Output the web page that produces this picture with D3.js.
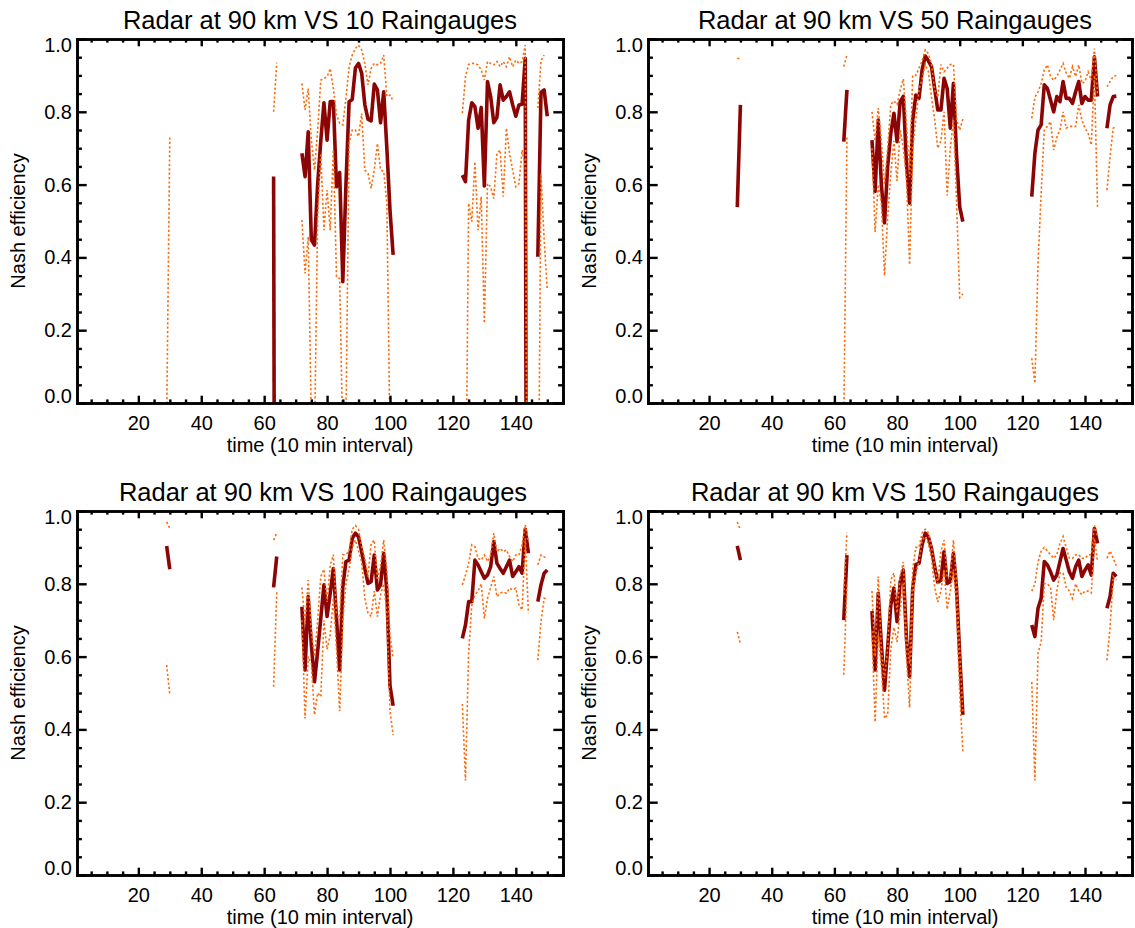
<!DOCTYPE html>
<html><head><meta charset="utf-8">
<script src="https://cdn.jsdelivr.net/npm/d3@7"></script>
<style>
body{margin:0;background:#fff}
text{font-family:"Liberation Sans",Arial,Helvetica,sans-serif;fill:#000}
</style>
</head><body>
<svg id="chart" width="1135" height="928"></svg>
<script>
// ---------------- DATA (segments: [start time index, values...]) ----------------
const timeTicks = [20, 40, 60, 80, 100, 120, 140];
const timeMinor = d3.range(5, 155, 5).filter(d => d % 20 !== 0);
const nashTicks = [0, 0.2, 0.4, 0.6, 0.8, 1.0];
const nashMinor = d3.range(0.05, 1.0, 0.05).filter(d => Math.abs(d*5 - Math.round(d*5)) > 1e-6);

const gaugeCounts = [10, 50, 100, 150];

const mean10 = [
  [63, [0.622, -3]],
  [72, [0.686,0.622,0.745,0.448,0.434,0.60,0.72,0.825,0.722,0.828,0.828,0.594,0.633,0.333,0.60,0.828,0.834,0.92,0.933,0.906,0.82,0.78,0.775,0.876,0.86,0.77,0.855,0.70,0.53,0.407]],
  [123, [0.626,0.608,0.777,0.825,0.814,0.755,0.812,0.596,0.883,0.842,0.770,0.785,0.874,0.832,0.842,0.855,0.819,0.788,0.819,0.821,0.947,-3]],
  [147, [0.402,0.853,0.860,0.788]]
];
const upper10 = [
  [29, [-0.05, 0.73]],
  [63, [0.80, 0.935]],
  [72, [0.878,0.805,0.864,0.722,0.64,0.75,0.887,0.892,0.896,0.919,0.864,0.791,0.768,0.764,0.837,0.924,0.956,0.974,0.983,0.97,0.933,0.874,0.919,0.933,0.929,0.933,0.956,0.842,0.846,0.83]],
  [123, [0.796,0.897,0.93,0.933,0.933,0.929,0.915,0.887,0.938,0.933,0.929,0.938,0.924,0.938,0.924,0.951,0.924,0.942,0.933,0.938,0.983,-1]],
  [147, [0.81,0.94,0.956]]
];
const lower10 = [
  [72, [0.503,0.356,0.457,-0.05,-0.1,0.51,0.686,0.475,0.585,0.475,0.695,0.347,0.342,-0.1,-0.05,0.713,0.75,0.75,0.732,0.796,0.64,0.631,0.59,0.64,0.713,0.64,0.636,0.55,-0.1,-0.2]],
  [123, [-0.5,-0.4,0.549,0.498,0.663,0.475,0.567,0.219,0.603,0.594,0.562,0.686,0.695,0.567,0.755,0.686,0.64,0.594,0.603,0.695,0.649,-1]],
  [147, [-0.5,0.63,0.45,0.31]]
];

const mean50 = [
  [29, [0.538, 0.819]],
  [63, [0.718, 0.86]],
  [72, [0.722,0.581,0.777,0.60,0.495,0.65,0.74,0.796,0.718,0.828,0.842,0.66,0.549,0.777,0.846,0.837,0.915,0.953,0.94,0.924,0.864,0.805,0.805,0.892,0.864,0.755,0.878,0.68,0.539,0.498]],
  [123, [0.567,0.686,0.75,0.764,0.874,0.864,0.832,0.80,0.842,0.828,0.883,0.837,0.837,0.823,0.855,0.883,0.823,0.842,0.832,0.832,0.951,0.842]],
  [147, [0.755,0.819,0.842,0.843]]
];
const upper50 = [
  [29, [0.947, 0.945]],
  [63, [0.924, 0.956]],
  [72, [0.80,0.72,0.81,0.72,0.60,0.70,0.82,0.83,0.82,0.86,0.89,0.77,0.62,0.90,0.90,0.92,0.94,0.97,0.96,0.93,0.86,0.84,0.93,0.91,0.92,0.93,0.93,0.78,0.75,0.78]],
  [123, [0.782,0.84,0.855,0.878,0.915,0.929,0.897,0.887,0.897,0.915,0.933,0.906,0.892,0.924,0.897,0.929,0.878,0.883,0.91,0.887,0.974,0.846]],
  [147, [0.869,0.883,0.897,0.90]]
];
const lower50 = [
  [63, [-0.05, 0.73]],
  [72, [0.70,0.47,0.60,0.55,0.35,0.51,0.63,0.72,0.61,0.75,0.70,0.62,0.38,0.70,0.78,0.86,0.89,0.93,0.91,0.84,0.78,0.70,0.72,0.80,0.57,0.70,0.78,0.55,0.29,0.30]],
  [123, [0.123,0.054,0.384,0.576,0.75,0.76,0.773,0.695,0.73,0.75,0.80,0.755,0.76,0.76,0.76,0.819,0.777,0.755,0.741,0.709,0.90,0.535]],
  [147, [0.585,0.677,0.755,0.76]]
];

const mean100 = [
  [29, [0.904, 0.84]],
  [63, [0.79, 0.875]],
  [72, [0.737,0.563,0.765,0.632,0.531,0.614,0.705,0.797,0.71,0.774,0.842,0.705,0.563,0.792,0.861,0.865,0.925,0.939,0.929,0.888,0.842,0.801,0.806,0.879,0.783,0.797,0.884,0.78,0.52,0.465]],
  [123, [0.65,0.687,0.751,0.751,0.865,0.852,0.833,0.815,0.824,0.847,0.916,0.856,0.842,0.829,0.847,0.865,0.82,0.833,0.847,0.829,0.95,0.884]],
  [147, [0.751,0.797,0.829,0.838]]
];
const upper100 = [
  [29, [0.97, 0.952]],
  [63, [0.92, 0.94]],
  [72, [0.79,0.69,0.81,0.67,0.60,0.70,0.82,0.84,0.75,0.85,0.88,0.72,0.70,0.88,0.88,0.89,0.95,0.96,0.95,0.90,0.87,0.82,0.91,0.92,0.81,0.85,0.92,0.84,0.66,0.595]],
  [123, [0.797,0.824,0.856,0.907,0.902,0.87,0.865,0.879,0.861,0.879,0.939,0.888,0.897,0.888,0.893,0.875,0.861,0.879,0.879,0.907,0.962,0.916]],
  [147, [0.852,0.879,0.874,0.87]]
];
const lower100 = [
  [29, [0.577, 0.495]],
  [63, [0.517, 0.778]],
  [72, [0.70,0.43,0.60,0.58,0.44,0.50,0.49,0.70,0.62,0.66,0.76,0.62,0.45,0.70,0.80,0.84,0.90,0.92,0.89,0.86,0.76,0.72,0.71,0.78,0.71,0.77,0.80,0.72,0.45,0.385]],
  [123, [0.47,0.26,0.61,0.74,0.77,0.78,0.80,0.705,0.76,0.79,0.82,0.765,0.774,0.778,0.774,0.788,0.783,0.788,0.742,0.728,0.925,0.719]],
  [147, [0.59,0.696,0.76,0.76]]
];

const mean150 = [
  [29, [0.904, 0.865]],
  [63, [0.70, 0.879]],
  [72, [0.725,0.563,0.774,0.632,0.508,0.623,0.742,0.788,0.696,0.806,0.838,0.65,0.545,0.788,0.853,0.856,0.907,0.939,0.929,0.897,0.847,0.804,0.81,0.888,0.801,0.806,0.884,0.788,0.604,0.44]],
  [123, [0.687,0.655,0.733,0.76,0.861,0.852,0.833,0.81,0.824,0.861,0.897,0.865,0.833,0.815,0.847,0.865,0.82,0.838,0.852,0.824,0.952,0.911]],
  [147, [0.733,0.765,0.829,0.82]]
];
const upper150 = [
  [29, [0.97, 0.948]],
  [63, [0.77, 0.94]],
  [72, [0.78,0.60,0.82,0.62,0.54,0.62,0.81,0.83,0.72,0.82,0.86,0.66,0.58,0.84,0.90,0.90,0.94,0.95,0.94,0.90,0.85,0.80,0.89,0.92,0.82,0.82,0.92,0.81,0.62,0.45]],
  [123, [0.78,0.80,0.86,0.89,0.90,0.89,0.88,0.87,0.88,0.91,0.93,0.90,0.87,0.87,0.88,0.88,0.87,0.87,0.88,0.88,0.96,0.93]],
  [147, [0.87,0.89,0.87,0.85]]
];
const lower150 = [
  [29, [0.668, 0.636]],
  [63, [0.55, 0.80]],
  [72, [0.67,0.42,0.66,0.57,0.43,0.44,0.62,0.68,0.64,0.73,0.80,0.60,0.46,0.77,0.83,0.86,0.92,0.93,0.91,0.87,0.79,0.75,0.78,0.84,0.73,0.78,0.84,0.74,0.50,0.34]],
  [123, [0.53,0.26,0.61,0.64,0.80,0.80,0.79,0.70,0.78,0.83,0.83,0.79,0.78,0.76,0.80,0.78,0.77,0.78,0.78,0.775,0.925,0.86]],
  [147, [0.59,0.68,0.82,0.81]]
];

const seriesByPanel = [
  {mean: mean10,  upper: upper10,  lower: lower10},
  {mean: mean50,  upper: upper50,  lower: lower50},
  {mean: mean100, upper: upper100, lower: lower100},
  {mean: mean150, upper: upper150, lower: lower150}
];

// ---------------- LAYOUT ----------------
const layout = [
  {left: 77,  right: 563,  top: 39,  bottom: 403, titleDx: 0,  xtitleDx: 0},
  {left: 648, right: 1132, top: 39,  bottom: 403, titleDx: 5,  xtitleDx: 15},
  {left: 77,  right: 563,  top: 511, bottom: 875, titleDx: 3,  xtitleDx: 0},
  {left: 648, right: 1132, top: 511, bottom: 875, titleDx: 5,  xtitleDx: 15}
];
const xDomain = [0.5, 155];
const MEAN_COLOR = "#8c0505";
const ORANGE = "#ff6a0a";
const FONT = '"Liberation Sans",Arial,Helvetica,sans-serif';

const svg = d3.select("#chart");

function toPoints(segments) {
  return segments.map(([t0, vals]) => vals.map((v, i) => ({t: t0 + i, v})));
}

layout.forEach((L, i) => {
  const S = seriesByPanel[i];
  const x = d3.scaleLinear().domain(xDomain).range([L.left, L.right]);
  const y = d3.scaleLinear().domain([0, 1]).range([L.bottom, L.top]);
  const g = svg.append("g");

  const clipId = "clip" + i;
  svg.append("clipPath").attr("id", clipId).append("rect")
    .attr("x", L.left).attr("y", L.top)
    .attr("width", L.right - L.left).attr("height", L.bottom - L.top);

  const line = d3.line().x(d => x(d.t)).y(d => y(d.v));
  const data = g.append("g").attr("clip-path", `url(#${clipId})`);

  data.selectAll("path.mean").data(toPoints(S.mean)).join("path")
    .attr("class", "mean").attr("d", line)
    .attr("fill", "none").attr("stroke", MEAN_COLOR).attr("stroke-width", 3.6)
    .attr("stroke-linejoin", "round");

  [S.upper, S.lower].forEach(ser => {
    data.append("g").selectAll("path").data(toPoints(ser)).join("path")
      .attr("d", line)
      .attr("fill", "none").attr("stroke", ORANGE).attr("stroke-width", 1.6)
      .attr("stroke-dasharray", "2.2,2.2");
  });

  // Axes (IDL style: box with inward ticks on all four sides)
  const xMajLen = 7.3, xMinLen = 3.6, yMajLen = 9.7, yMinLen = 4.9;
  const axes = g.append("g");
  const styleAxis = sel => {
    sel.selectAll("path.domain").attr("stroke", "#000").attr("stroke-width", 2.6);
    sel.selectAll(".tick line").attr("stroke", "#000").attr("stroke-width", 2.4);
    sel.selectAll(".tick text").remove();
  };

  const bottomMaj = axes.append("g").attr("transform", `translate(0,${L.bottom})`)
    .call(d3.axisBottom(x).tickValues(timeTicks).tickSize(-xMajLen).tickSizeOuter(0).tickPadding(13).tickFormat(d3.format("d")));
  bottomMaj.attr("font-family", null).attr("font-size", null);
  bottomMaj.selectAll("path.domain").attr("stroke", "#000").attr("stroke-width", 2.6);
  bottomMaj.selectAll(".tick line").attr("stroke", "#000").attr("stroke-width", 2.4);
  bottomMaj.selectAll(".tick text").attr("font-size", 20).attr("fill", "#000")
    .attr("y", 27).attr("dy", null)
    .style("font-family", FONT);

  axes.append("g").attr("transform", `translate(0,${L.bottom})`)
    .call(d3.axisBottom(x).tickValues(timeMinor).tickSize(-xMinLen).tickSizeOuter(0).tickFormat(""))
    .call(styleAxis);
  axes.append("g").attr("transform", `translate(0,${L.top})`)
    .call(d3.axisTop(x).tickValues(timeTicks).tickSize(-xMajLen).tickSizeOuter(0).tickFormat(""))
    .call(styleAxis);
  axes.append("g").attr("transform", `translate(0,${L.top})`)
    .call(d3.axisTop(x).tickValues(timeMinor).tickSize(-xMinLen).tickSizeOuter(0).tickFormat(""))
    .call(styleAxis);
  axes.append("g").attr("transform", `translate(${L.left},0)`)
    .call(d3.axisLeft(y).tickValues(nashTicks).tickSize(-yMajLen).tickSizeOuter(0).tickFormat(""))
    .call(styleAxis);
  axes.append("g").attr("transform", `translate(${L.left},0)`)
    .call(d3.axisLeft(y).tickValues(nashMinor).tickSize(-yMinLen).tickSizeOuter(0).tickFormat(""))
    .call(styleAxis);
  axes.append("g").attr("transform", `translate(${L.right},0)`)
    .call(d3.axisRight(y).tickValues(nashTicks).tickSize(-yMajLen).tickSizeOuter(0).tickFormat(""))
    .call(styleAxis);
  axes.append("g").attr("transform", `translate(${L.right},0)`)
    .call(d3.axisRight(y).tickValues(nashMinor).tickSize(-yMinLen).tickSizeOuter(0).tickFormat(""))
    .call(styleAxis);
  axes.selectAll("path.domain").attr("stroke-linecap", "square");

  // y tick labels (end labels kept inside the axis extent, as in the original)
  g.append("g").selectAll("text").data(nashTicks).join("text")
    .attr("x", L.left - 5)
    .attr("y", d => Math.min(Math.max(y(d) + 7, L.top + 13), L.bottom + 0.3))
    .attr("text-anchor", "end").attr("font-size", 20)
    .text(d => d3.format(".1f")(d));

  // titles
  const cx = (L.left + L.right) / 2;
  g.append("text").attr("x", cx + L.titleDx).attr("y", L.top - 10)
    .attr("text-anchor", "middle").attr("font-size", 25.5)
    .text(`Radar at 90 km VS ${gaugeCounts[i]} Raingauges`);
  g.append("text").attr("x", cx + L.xtitleDx).attr("y", L.bottom + 49)
    .attr("text-anchor", "middle").attr("font-size", 20)
    .text("time (10 min interval)");
  g.append("text")
    .attr("transform", `translate(${L.left - 52},${(L.top + L.bottom) / 2}) rotate(-90)`)
    .attr("text-anchor", "middle").attr("font-size", 20)
    .text("Nash efficiency");
});
</script>
</body></html>
